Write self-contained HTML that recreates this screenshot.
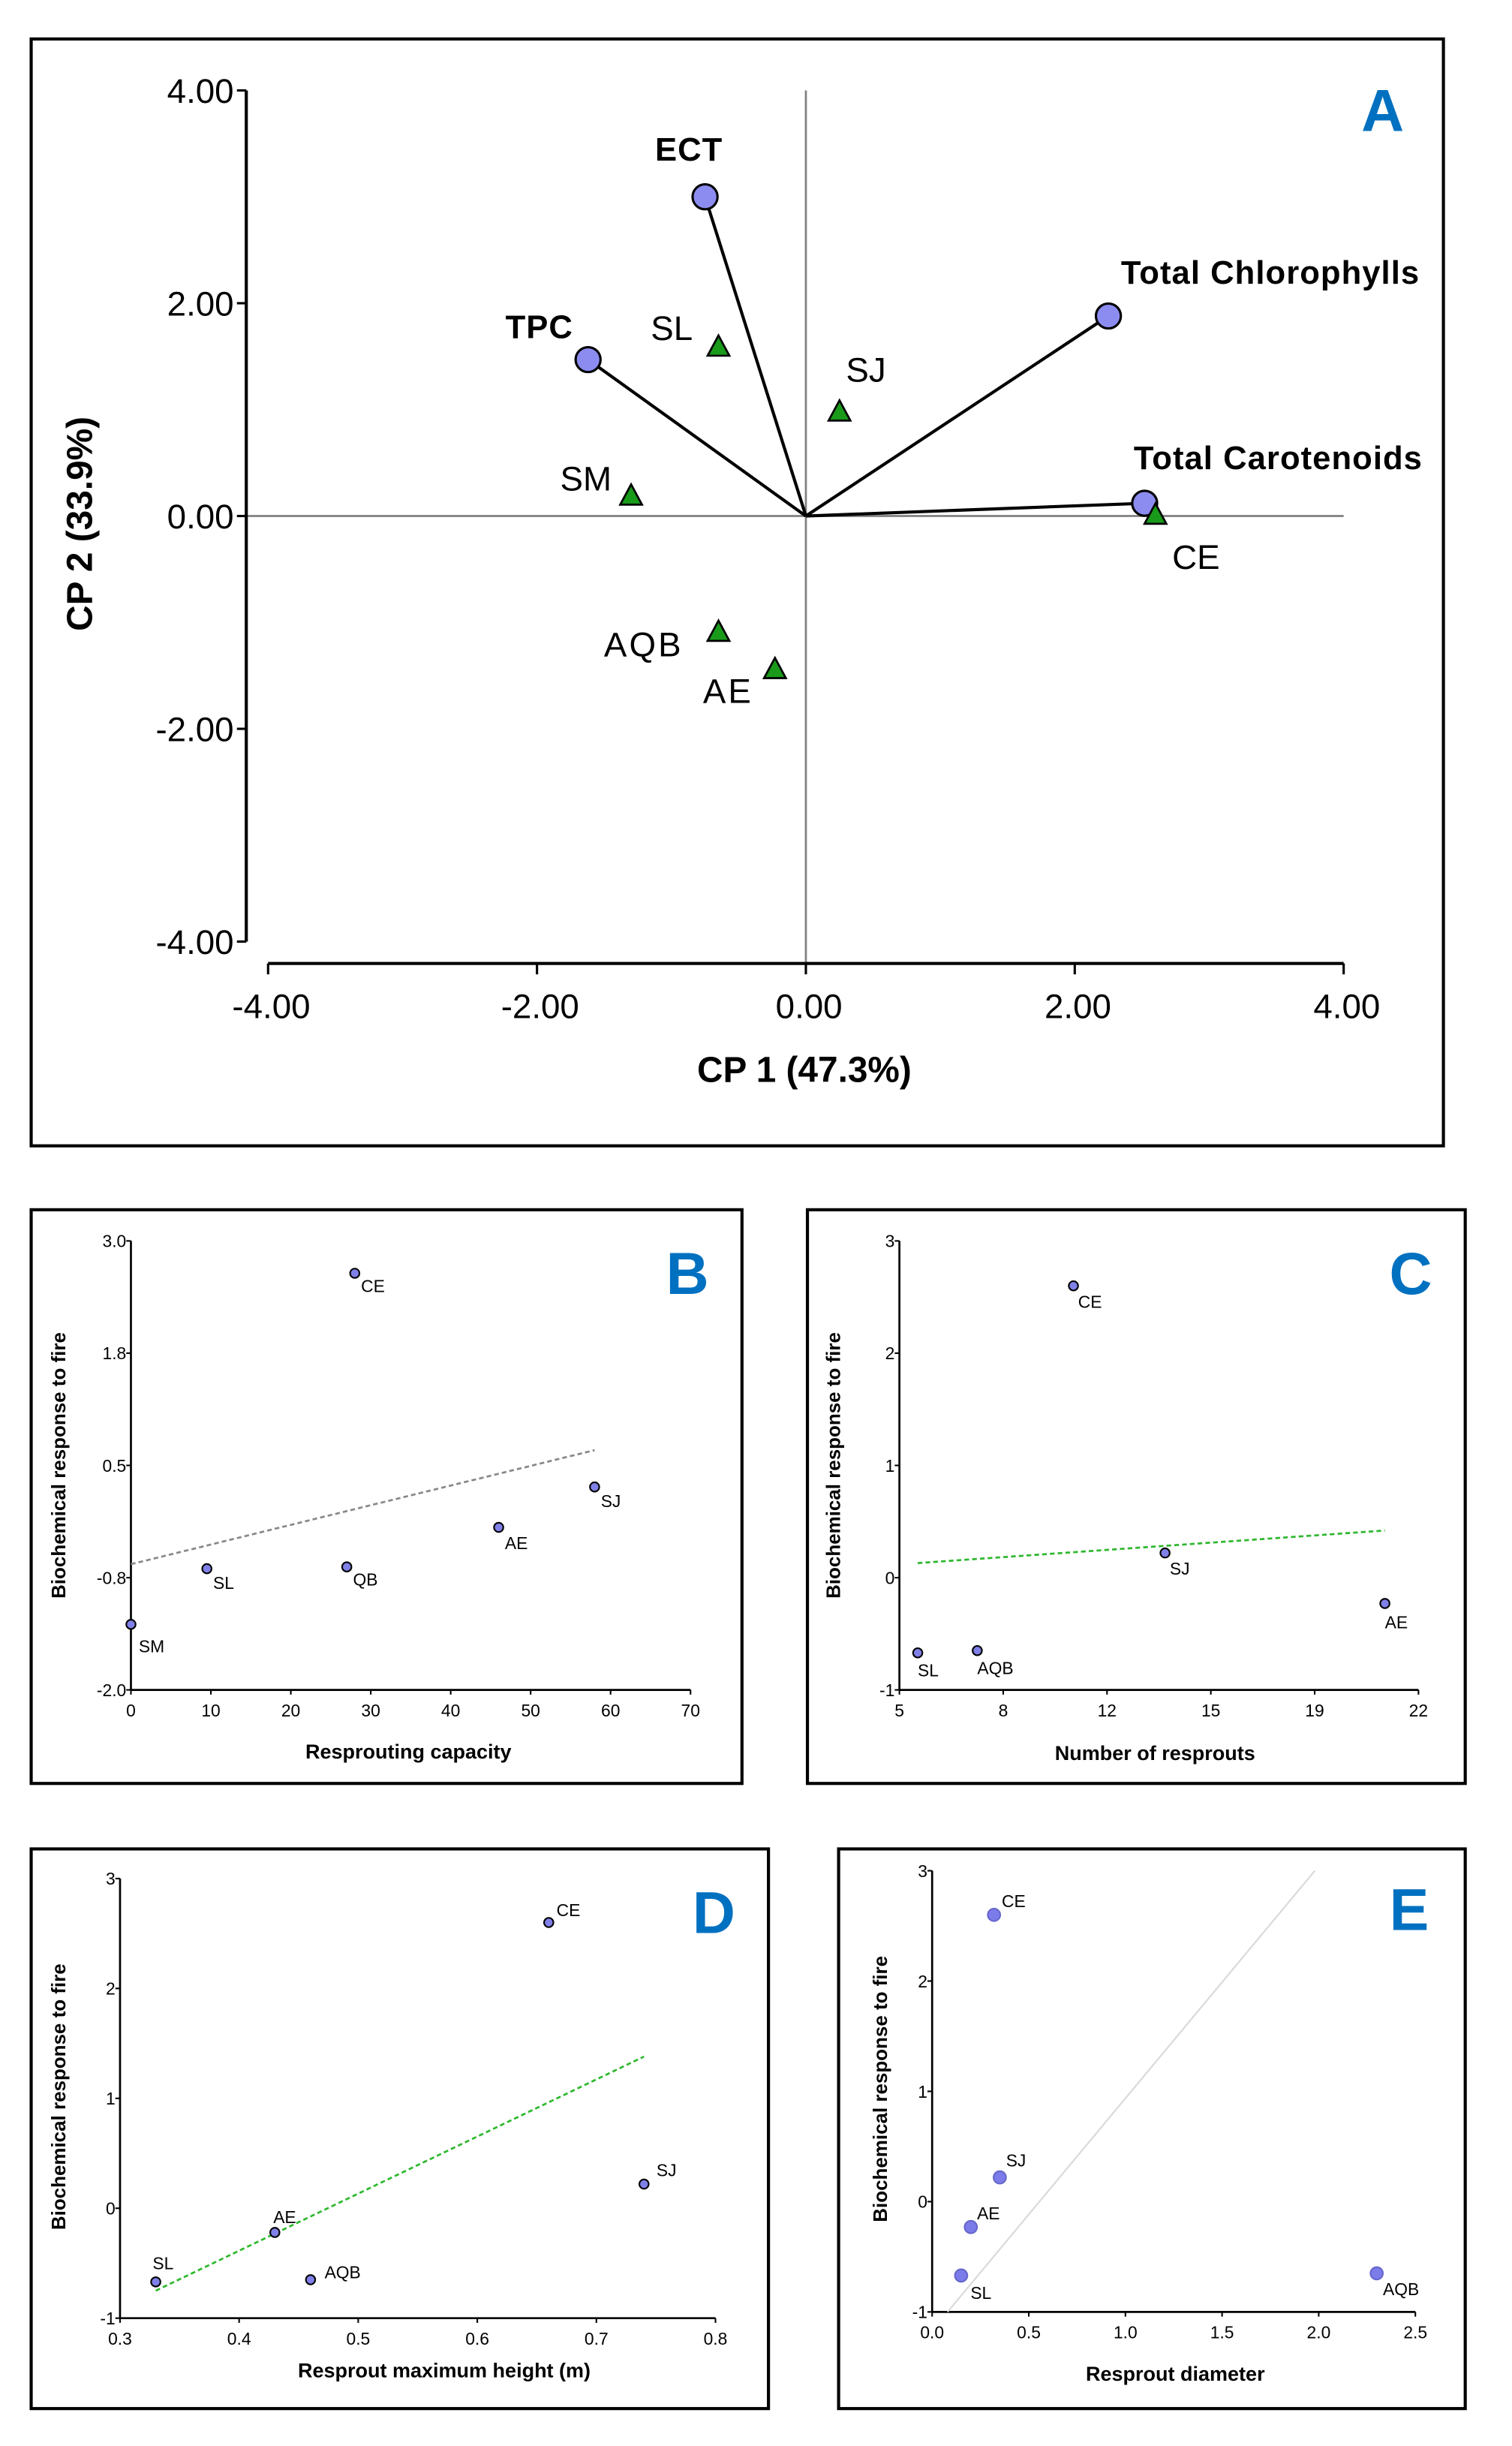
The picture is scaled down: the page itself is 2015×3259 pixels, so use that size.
<!DOCTYPE html>
<html><head><meta charset="utf-8"><style>
html,body{margin:0;padding:0;background:#fff;}
svg{display:block;font-family:"Liberation Sans",Arial,sans-serif;}
</style></head><body>
<svg id="fig" width="2015" height="3259" viewBox="0 0 970 1569" preserveAspectRatio="none" xmlns="http://www.w3.org/2000/svg">
<rect x="0" y="0" width="970" height="1569" fill="#fff"/>
<rect x="20" y="25" width="906" height="710" fill="none" stroke="#000" stroke-width="2"/>
<rect x="20" y="776" width="456" height="368" fill="none" stroke="#000" stroke-width="2"/>
<rect x="518" y="776" width="422" height="368" fill="none" stroke="#000" stroke-width="2"/>
<rect x="20" y="1186" width="473" height="359" fill="none" stroke="#000" stroke-width="2"/>
<rect x="538" y="1186" width="402" height="359" fill="none" stroke="#000" stroke-width="2"/>
<g id="gA"></g>
<g id="gB"></g>
<g id="gC"></g>
<g id="gD"></g>
<g id="gE"></g>
</svg>
<script>
// Panel A data
const aTicks = [-4, -2, 0, 2, 4];
const aTickLabels = ["-4.00", "-2.00", "0.00", "2.00", "4.00"];
const aVarNames = ["ECT", "TPC", "Total Chlorophylls", "Total Carotenoids"];
const aVarX = [-0.75, -1.62, 2.25, 2.52];
const aVarY = [3.0, 1.47, 1.88, 0.12];
const aSiteNames = ["SL", "SJ", "SM", "CE", "AQB", "AE"];
const aSiteX = [-0.65, 0.25, -1.3, 2.6, -0.65, -0.23];
const aSiteY = [1.58, 0.97, 0.18, 0.0, -1.1, -1.45];

// Panel B data
const bNames = ["CE", "SJ", "AE", "QB", "SL", "SM"];
const bX = [28, 58, 46, 27, 9.5, 0];
const bY = [2.64, 0.26, -0.19, -0.63, -0.65, -1.27];
const bTicksX = [0, 10, 20, 30, 40, 50, 60, 70];
const bTicksY = [-2, -0.75, 0.5, 1.75, 3];
const bTickLabelsY = ["-2.0", "-0.8", "0.5", "1.8", "3.0"];
const bFitX = [0, 58];
const bFitY = [-0.6, 0.67];

// Panel C data
const cNames = ["CE", "SJ", "AE", "SL", "AQB"];
const cX = [10.7, 13.7, 20.9, 5.6, 7.55];
const cY = [2.6, 0.22, -0.23, -0.67, -0.65];
const cTicksX = [5, 8.4, 11.8, 15.2, 18.6, 22];
const cTickLabelsX = ["5", "8", "12", "15", "19", "22"];
const cTicksY = [-1, 0, 1, 2, 3];
const cFitX = [5.6, 20.9];
const cFitY = [0.13, 0.42];

// Panel D data
const dNames = ["CE", "SJ", "AE", "AQB", "SL"];
const dX = [0.66, 0.74, 0.43, 0.46, 0.33];
const dY = [2.6, 0.22, -0.22, -0.65, -0.67];
const dTicksX = [0.3, 0.4, 0.5, 0.6, 0.7, 0.8];
const dTicksY = [-1, 0, 1, 2, 3];
const dFitX = [0.33, 0.74];
const dFitY = [-0.75, 1.38];

// Panel E data
const eNames = ["CE", "SJ", "AE", "SL", "AQB"];
const eX = [0.32, 0.35, 0.2, 0.15, 2.3];
const eY = [2.6, 0.22, -0.23, -0.67, -0.65];
const eTicksX = [0, 0.5, 1.0, 1.5, 2.0, 2.5];
const eTickLabelsX = ["0.0", "0.5", "1.0", "1.5", "2.0", "2.5"];
const eTicksY = [-1, 0, 1, 2, 3];
const eFitX = [0.08, 1.98];
const eFitY = [-1, 3];

const NS = "http://www.w3.org/2000/svg";
function mk(parent, tag, attrs, text) {
  const el = document.createElementNS(NS, tag);
  for (const k in attrs) el.setAttribute(k, attrs[k]);
  if (text !== undefined) el.textContent = text;
  parent.appendChild(el);
  return el;
}
function lin(d0, d1, r0, r1) { return v => r0 + (v - d0) * (r1 - r0) / (d1 - d0); }

// ---------- Panel A ----------
(function () {
  const g = document.getElementById("gA");
  const X = lin(0, 4, 517, 862), Y = lin(0, 4, 331, 58);
  let el;
  el = mk(g, "line", {x1: X(0), y1: 58, x2: X(0), y2: 618, stroke: "#808080", "stroke-width": 1.3});
  
  
  el = mk(g, "line", {x1: 158, y1: Y(0), x2: 862, y2: Y(0), stroke: "#808080", "stroke-width": 1.3});
  
  
  el = mk(g, "line", {x1: 158, y1: Y(4), x2: 158, y2: Y(-4), stroke: "#000", "stroke-width": 2});
  
  
  el = mk(g, "line", {x1: X(-4), y1: 618, x2: X(4), y2: 618, stroke: "#000", "stroke-width": 2});
  
  
  aTicks.forEach((t, i) => {
    let e = mk(g, "line", {x1: 152, y1: Y(t), x2: 158, y2: Y(t), stroke: "#000", "stroke-width": 1.5});
    
    
    e = mk(g, "text", {x: 150, y: Y(t) + 8, "text-anchor": "end", "font-size": 22}, aTickLabels[i]);
    
    
    e = mk(g, "line", {x1: X(t), y1: 618, x2: X(t), y2: 625, stroke: "#000", "stroke-width": 1.5});
    
    
    e = mk(g, "text", {x: X(t) + 2, y: 653, "text-anchor": "middle", "font-size": 22}, aTickLabels[i]);
    
    
  });
  el = mk(g, "text", {x: 516, y: 694, "text-anchor": "middle", "font-size": 23, "font-weight": "bold"}, "CP 1 (47.3%)");
  
  
  el = mk(g, "text", {x: 0, y: 0, "text-anchor": "middle", "font-size": 23, "font-weight": "bold", transform: "translate(59,336) rotate(-90)"}, "CP 2 (33.9%)");
  
  
  el = mk(g, "text", {x: 887, y: 84, "text-anchor": "middle", "font-size": 38, "font-weight": "bold", fill: "#0070c0"}, "A");
  
  
  const varLabelPos = [[442, 103, "middle"], [346, 217, "middle"], [815, 182, "middle"], [820, 301, "middle"]];
  aVarNames.forEach((n, i) => {
    let e = mk(g, "line", {x1: X(0), y1: Y(0), x2: X(aVarX[i]), y2: Y(aVarY[i]), stroke: "#000", "stroke-width": 2});
    
    
    e = mk(g, "circle", {cx: X(aVarX[i]), cy: Y(aVarY[i]), r: 8, fill: "#8c8cf0", stroke: "#000", "stroke-width": 1.5});
    
    
    e = mk(g, "text", {x: varLabelPos[i][0], y: varLabelPos[i][1], "text-anchor": varLabelPos[i][2], "font-size": 21, "font-weight": "bold", "letter-spacing": "0.5"}, n);
    
    
  });
  const siteOff = [[-30, -5], [17, -20], [-29, -4], [26, 34], [-48, 15], [-30, 21]];
  aSiteNames.forEach((n, i) => {
    const x = X(aSiteX[i]), y = Y(aSiteY[i]);
    let e = mk(g, "polygon", {points: `${x},${y - 8} ${x - 7},${y + 5} ${x + 7},${y + 5}`, fill: "#1a9a1a", stroke: "#000", "stroke-width": 1.3});
    
    
    e = mk(g, "text", {x: x + siteOff[i][0], y: y + siteOff[i][1], "text-anchor": "middle", "font-size": 22, "letter-spacing": n === "AQB" || n === "AE" ? "1.5" : "0"}, n);
    
    
  });
})();

function scatter(g, cfg) {
  const X = lin(cfg.xd[0], cfg.xd[1], cfg.xr[0], cfg.xr[1]);
  const Y = lin(cfg.yd[0], cfg.yd[1], cfg.yr[0], cfg.yr[1]);
  let el;
  el = mk(g, "line", {x1: cfg.xr[0], y1: cfg.yr[0], x2: cfg.xr[0], y2: cfg.yr[1], stroke: "#000", "stroke-width": 1.3});
  
  
  el = mk(g, "line", {x1: cfg.xr[0], y1: cfg.yr[0], x2: cfg.xr[1], y2: cfg.yr[0], stroke: "#000", "stroke-width": 1.3});
  
  
  cfg.ty.forEach((t, i) => {
    let e = mk(g, "line", {x1: cfg.xr[0] - 3, y1: Y(t), x2: cfg.xr[0], y2: Y(t), stroke: "#000", "stroke-width": 1});
    
    
    e = mk(g, "text", {x: cfg.xr[0] - 3, y: Y(t) + 4, "text-anchor": "end", "font-size": 11}, cfg.tyl[i]);
    
    
  });
  cfg.tx.forEach((t, i) => {
    let e = mk(g, "line", {x1: X(t), y1: cfg.yr[0], x2: X(t), y2: cfg.yr[0] + 3, stroke: "#000", "stroke-width": 1});
    
    
    e = mk(g, "text", {x: X(t), y: cfg.yr[0] + 17, "text-anchor": "middle", "font-size": 11}, cfg.txl[i]);
    
    
  });
  el = mk(g, "line", {x1: X(cfg.fx[0]), y1: Y(cfg.fy[0]), x2: X(cfg.fx[1]), y2: Y(cfg.fy[1]), stroke: cfg.fc, "stroke-width": cfg.fw, "stroke-dasharray": cfg.fd});
  
  
  cfg.names.forEach((n, i) => {
    const x = X(cfg.x[i]), y = Y(cfg.y[i]);
    let e = mk(g, "circle", {cx: x, cy: y, r: cfg.r, fill: cfg.pf, stroke: cfg.ps, "stroke-width": 1});
    
    
    e = mk(g, "text", {x: x + cfg.off[i][0], y: y + cfg.off[i][1], "font-size": 11}, n);
    
    
  });
  el = mk(g, "text", {x: cfg.xt[0], y: cfg.xt[1], "text-anchor": "middle", "font-size": 13, "font-weight": "bold"}, cfg.xtitle);
  
  
  el = mk(g, "text", {x: 0, y: 0, "text-anchor": "middle", "font-size": 12.5, "font-weight": "bold", transform: `translate(${cfg.yt[0]},${cfg.yt[1]}) rotate(-90)`}, "Biochemical response to fire");
  
  
  el = mk(g, "text", {x: cfg.pl[0], y: cfg.pl[1], "text-anchor": "middle", "font-size": 38, "font-weight": "bold", fill: "#0070c0"}, cfg.plabel);
  
  
}

scatter(document.getElementById("gB"), {
  xd: [0, 70], xr: [84, 443], yd: [-2, 3], yr: [1084, 796],
  tx: bTicksX, txl: bTicksX.map(String), ty: bTicksY, tyl: bTickLabelsY,
  fx: bFitX, fy: bFitY, fc: "#888", fw: 1.3, fd: "3,2",
  names: bNames, x: bX, y: bY, r: 3, pf: "#8080e8", ps: "#000",
  off: [[4, 12], [4, 13], [4, 14], [4, 12], [4, 13], [5, 18]],
  xt: [262, 1128], yt: [42, 940], pl: [441, 830], plabel: "B", xtitle: "Resprouting capacity"
});
scatter(document.getElementById("gC"), {
  xd: [5, 22], xr: [577, 910], yd: [-1, 3], yr: [1084, 796],
  tx: cTicksX, txl: cTickLabelsX, ty: cTicksY, tyl: cTicksY.map(String),
  fx: cFitX, fy: cFitY, fc: "#2db82d", fw: 1.3, fd: "3,2",
  names: cNames, x: cX, y: cY, r: 3, pf: "#8080e8", ps: "#000",
  off: [[3, 14], [3, 14], [0, 16], [0, 15], [0, 15]],
  xt: [741, 1129], yt: [539, 940], pl: [905, 830], plabel: "C", xtitle: "Number of resprouts"
});
scatter(document.getElementById("gD"), {
  xd: [0.3, 0.8], xr: [77, 459], yd: [-1, 3], yr: [1487, 1205],
  tx: dTicksX, txl: dTicksX.map(String), ty: dTicksY, tyl: dTicksY.map(String),
  fx: dFitX, fy: dFitY, fc: "#2db82d", fw: 1.3, fd: "3,2",
  names: dNames, x: dX, y: dY, r: 3, pf: "#8080e8", ps: "#000",
  off: [[5, -4], [8, -5], [-1, -6], [9, -1], [-2, -8]],
  xt: [285, 1525], yt: [42, 1345], pl: [458, 1240], plabel: "D", xtitle: "Resprout maximum height (m)"
});
scatter(document.getElementById("gE"), {
  xd: [0, 2.5], xr: [598, 908], yd: [-1, 3], yr: [1483, 1200],
  tx: eTicksX, txl: eTickLabelsX, ty: eTicksY, tyl: eTicksY.map(String),
  fx: eFitX, fy: eFitY, fc: "#d8d8d8", fw: 1, fd: "none",
  names: eNames, x: eX, y: eY, r: 4, pf: "#7b7bea", ps: "#6666cc",
  off: [[5, -5], [4, -7], [4, -5], [6, 15], [4, 14]],
  xt: [754, 1527], yt: [569, 1340], pl: [904, 1238], plabel: "E", xtitle: "Resprout diameter"
});
</script>
</body></html>
